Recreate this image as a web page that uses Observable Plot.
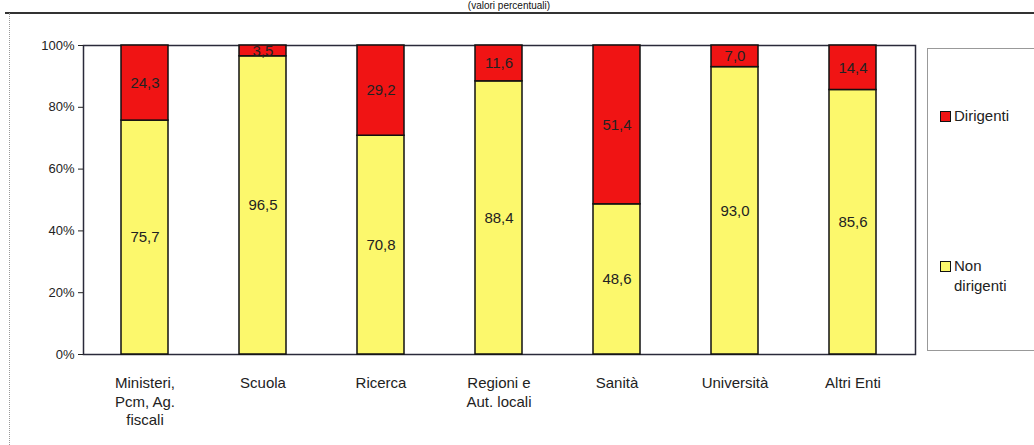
<!DOCTYPE html>
<html><head><meta charset="utf-8">
<script src="https://cdn.jsdelivr.net/npm/d3@7"></script>
<script src="https://cdn.jsdelivr.net/npm/@observablehq/plot@0.6"></script>
<style>
html,body{margin:0;padding:0;background:#fff;overflow:hidden;}
#wrap{position:relative;width:1034px;height:445px;font-family:"Liberation Sans",Arial,sans-serif;}
#title{position:absolute;top:0px;left:0;width:1018px;text-align:center;font-size:10px;line-height:11px;color:#111;}
#frameTop{position:absolute;top:12px;left:5px;width:1029px;height:2px;background:#333;}
#frameLeft{position:absolute;top:13px;left:9px;width:0;height:432px;border-left:1px dotted #999;}
#legend{position:absolute;left:927px;top:48px;width:110px;height:303px;border:1px solid #999;box-sizing:border-box;font-size:15px;color:#222;}
.item{position:absolute;left:12px;display:flex;align-items:flex-start;line-height:20px;}
.sw{width:9px;height:9px;border:1.5px solid #111;margin-right:3px;margin-top:5px;flex:none;}
svg{position:absolute;left:0;top:0;}
</style></head>
<body><div id="wrap">
<div id="title">(valori percentuali)</div>
<div id="frameTop"></div><div id="frameLeft"></div>
<div id="chart"></div>
<div id="legend"></div>
</div>
<script>
const categories = ["Ministeri,\nPcm, Ag.\nfiscali","Scuola","Ricerca","Regioni e\nAut. locali","Sanità","Università","Altri Enti"];
const nonDirigenti = [75.7, 96.5, 70.8, 88.4, 48.6, 93.0, 85.6];
const dirigenti = [24.3, 3.5, 29.2, 11.6, 51.4, 7.0, 14.4];
const seriesNames = ["Non dirigenti","Dirigenti"];
const seriesColors = ["#fcf86c","#f01414"];
const yTicks = [0,20,40,60,80,100];

const data = [];
categories.forEach((c,i)=>{
  data.push({cat:c, series:seriesNames[0], value:nonDirigenti[i]});
  data.push({cat:c, series:seriesNames[1], value:dirigenti[i]});
});
const fmt = v => v.toLocaleString("it-IT",{minimumFractionDigits:1,maximumFractionDigits:1});

const chart = Plot.plot({
  width:1034, height:445,
  marginLeft:83, marginRight:119, marginTop:45, marginBottom:91,
  style:{fontFamily:"'Liberation Sans', Arial, sans-serif", background:"transparent"},
  x:{domain:categories, paddingInner:0.6, paddingOuter:0.3, align:0.5},
  y:{domain:[0,100]},
  color:{domain:seriesNames, range:seriesColors},
  marks:[
    Plot.frame({stroke:"#2a2a3a", strokeWidth:1.5}),
    Plot.barY(data, Plot.stackY({x:"cat", y:"value", fill:"series", order:seriesNames, stroke:"#111", strokeWidth:1.5})),
    Plot.text(data, Plot.stackY({x:"cat", y:"value", z:"series", order:seriesNames, text:d=>fmt(d.value), fontSize:15, fill:"#222"})),
    Plot.axisY({ticks:yTicks, tickFormat:d=>d+"%", tickSize:5, tickPadding:4, fontSize:13, color:"#222", label:null}),
    Plot.axisX({tickSize:0, tickPadding:20, fontSize:15, lineHeight:1.25, color:"#222", label:null, textAnchor:"middle"})
  ]
});
document.getElementById("chart").appendChild(chart);

const legend = document.getElementById("legend");
[[1,"Dirigenti",57],[0,"Non<br>dirigenti",207]].forEach(([i,t,top])=>{
  const d=document.createElement("div");d.className="item";d.style.top=top+"px";
  d.innerHTML=`<span class="sw" style="background:${seriesColors[i]}"></span><span>${t}</span>`;
  legend.appendChild(d);
});
</script></body></html>
